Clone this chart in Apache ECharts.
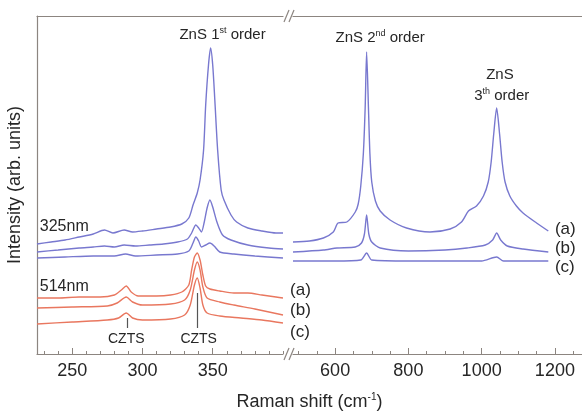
<!DOCTYPE html>
<html>
<head>
<meta charset="utf-8">
<script src="https://cdn.jsdelivr.net/npm/echarts@6/dist/echarts.min.js"></script>
<style>html,body{margin:0;padding:0;background:#fff}#c{width:582px;height:411px}</style>
</head>
<body>
<div id="c"></div>
<script>
// ---- Left panel (225-400 cm-1) : 325 nm excitation (blue) ----
var blueA_L_x = [225,235,245,255,265,273,279,287,293,300,310,320,328,333,336,339,341,343.5,345,347,348.5,350,351.5,353.5,356,358,363,367,375,385,395,400];
var blueA_L_y = [110,112,114,117,120,124,121,124,122,123,125,127,130,136,149,161,174,204,249,289,306,289,254,204,164,154,139,132,126,123,121,121];
var blueB_L_x = [225,240,255,265,273,280,287,295,305,315,325,332,335,338,340,342,344,346,348,350,353,357,363,375,390,400];
var blueB_L_y = [102,104,106,107,108,107,109,108,109,110,112,115,121,129,126,122,132,146,154,147,132,119,114,109,106,105];
var blueC_L_x = [225,245,265,280,288,295,310,325,333,336,338,340,342,345,348,351,355,365,380,400];
var blueC_L_y = [96,97,98,98,100,98,99,100,103,111,117,113,107,109,111,108,102,100,98,96];
// ---- Left panel : 514 nm excitation (red) ----
var redA_x = [225,240,255,270,280,285,288.5,292,297,310,320,328,333,335,337,339,341,343,345,348,355,365,375,385,395,400];
var redA_y = [56,56,57,57,59,64,68,62,58,58,59,62,69,84,97,101,94,79,68,65,63,61,61,59,57,56];
var redB_x = [225,250,275,282,288.5,293,300,320,330,334,337,339,341,343,346,355,365,380,400];
var redB_y = [46,47,48,51,57,52,49,50,54,64,84,92,84,67,56,52,49,45,39];
var redC_x = [225,250,275,283,288.5,293,300,320,330,334,337,339,341,343,346,355,370,385,400];
var redC_y = [30,32,34,36,41,36,34,35,39,49,69,76,66,49,41,38,36,34,31];
// ---- Right panel (485-1274 cm-1) : 325 nm excitation (blue) ----
var blueA_R_x = [485,530,568,595,608,632,655,663,670,677,682,686,691,695,700,710,723,750,795,859,914,945,964,986,1005,1018,1026,1033,1041,1049,1056,1064,1077,1095,1113,1150,1182];
var blueA_R_y = [112,113,116,122,131,132,142,150,168,200,246,302,246,200,172,153,143,134,126,122,125,132,143,148,158,172,192,220,246,220,192,172,158,148,141,131,123];
var blueB_R_x = [485,568,605,655,672,680,686,692,700,723,800,900,960,1010,1030,1041,1052,1070,1113,1182];
var blueB_R_y = [102,104,106,107,111,120,139,120,112,106,103,104,106,109,114,121,114,108,105,102];
var blueC_R_x = [485,600,670,686,700,800,1000,1041,1060,1182];
var blueC_R_y = [93,93,94,101,94,93,93,97,93,93];
// ---- Axis ticks ----
var leftMajorTicks = [250,300,350];
var leftMinorTicks = [230,240,260,270,280,290,310,320,330,340,360,370,380,390,400];
var rightMajorTicks = [600,800,1000,1200];
var rightMinorTicks = [500,550,650,700,750,850,900,950,1050,1100,1150,1250];
// CZTS marker positions
var cztsPos = [289,339];

function zip(xs, ys){ return xs.map(function(x,i){ return [x, ys[i]]; }); }

var BLUE = '#7878cf', RED = '#e9775f', AXIS = '#8c8580', TXT = '#262626';
var FONT = 'Liberation Sans, Arial, sans-serif';

var chart = echarts.init(document.getElementById('c'), null, {renderer:'canvas'});

function lineSeries(name, xi, yi, data, color, extra){
  var s = {name:name, type:'line', xAxisIndex:xi, yAxisIndex:yi, data:data, showSymbol:false, symbol:'none',
    smooth:0.25, lineStyle:{color:color, width:1.4}, itemStyle:{color:color}, silent:true, animation:false, z:3};
  if (extra) for (var k in extra) s[k]=extra[k];
  return s;
}

var grids = [
  {left:37, top:16, width:246, height:338},
  {left:293, top:16, right:0, height:338}
];

function xMain(gi, min, max, major){
  return {type:'value', gridIndex:gi, min:min, max:max, position:'bottom',
    axisLine:{show:true, lineStyle:{color:AXIS, width:1.2}},
    axisTick:{show:true, inside:true, length:6, customValues:major, lineStyle:{color:AXIS}},
    axisLabel:{show:true, customValues:major, color:TXT, fontSize:18, fontFamily:FONT, margin:8,
      formatter:function(v){ return String(v); }},
    splitLine:{show:false}};
}
function xMinor(gi, min, max, minor){
  return {type:'value', gridIndex:gi, min:min, max:max, position:'bottom',
    axisLine:{show:false}, axisTick:{show:true, inside:true, length:3, customValues:minor, lineStyle:{color:AXIS}},
    axisLabel:{show:false}, splitLine:{show:false}};
}
function xTop(gi, min, max){
  return {type:'value', gridIndex:gi, min:min, max:max, position:'top',
    axisLine:{show:true, lineStyle:{color:AXIS, width:1.2}}, axisTick:{show:false}, axisLabel:{show:false}, splitLine:{show:false}};
}

var option = {
  animation:false,
  backgroundColor:'#fff',
  grid: grids,
  xAxis: [
    xMain(0,225,400,leftMajorTicks), xMinor(0,225,400,leftMinorTicks), xTop(0,225,400),
    xMain(1,485,1274,rightMajorTicks), xMinor(1,485,1274,rightMinorTicks), xTop(1,485,1274)
  ],
  yAxis: [
    {type:'value', gridIndex:0, min:0, max:338, axisLine:{show:true, lineStyle:{color:AXIS, width:1.2}},
      axisTick:{show:false}, axisLabel:{show:false}, splitLine:{show:false},
      name:'Intensity (arb. units)', nameLocation:'middle', nameGap:13,
      nameTextStyle:{color:TXT, fontSize:18, fontFamily:FONT}},
    {type:'value', gridIndex:1, min:0, max:338, axisLine:{show:false}, axisTick:{show:false}, axisLabel:{show:false}, splitLine:{show:false}}
  ],
  series: [
    lineSeries('325nm (a) L', 0, 0, zip(blueA_L_x, blueA_L_y), BLUE),
    lineSeries('325nm (b) L', 0, 0, zip(blueB_L_x, blueB_L_y), BLUE),
    lineSeries('325nm (c) L', 0, 0, zip(blueC_L_x, blueC_L_y), BLUE),
    lineSeries('514nm (a)', 0, 0, zip(redA_x, redA_y), RED),
    lineSeries('514nm (b)', 0, 0, zip(redB_x, redB_y), RED),
    lineSeries('514nm (c)', 0, 0, zip(redC_x, redC_y), RED, {
      markLine:{silent:true, symbol:'none', label:{show:false}, animation:false,
        lineStyle:{color:'#555', width:1.2, type:'solid'},
        data:[
          [{coord:[cztsPos[0], 36]}, {coord:[cztsPos[0], 26]}],
          [{coord:[cztsPos[1], 61]}, {coord:[cztsPos[1], 26]}]
        ]}
    }),
    lineSeries('325nm (a) R', 3, 1, zip(blueA_R_x, blueA_R_y), BLUE),
    lineSeries('325nm (b) R', 3, 1, zip(blueB_R_x, blueB_R_y), BLUE),
    lineSeries('325nm (c) R', 3, 1, zip(blueC_R_x, blueC_R_y), BLUE)
  ]
};
chart.setOption(option);

// annotations, given in data coordinates of a grid
var sup = {fontSize:9, fontFamily:FONT, color:TXT, padding:[0,0,8,0]};
var annotations = [
  {g:0, x:357, y:319, text:'ZnS 1{s|st} order', align:'center', size:15},
  {g:1, x:723, y:316, text:'ZnS 2{s|nd} order', align:'center', size:15},
  {g:1, x:1050, y:279, text:'ZnS', align:'center', size:15},
  {g:1, x:1055, y:258, text:'3{s|th} order', align:'center', size:15},
  {g:0, x:227, y:127, text:'325nm', align:'left', size:16},
  {g:0, x:227, y:67, text:'514nm', align:'left', size:16},
  {g:0, x:405, y:64, text:'(a)', align:'left', size:17},
  {g:0, x:405, y:44, text:'(b)', align:'left', size:17},
  {g:0, x:405, y:22, text:'(c)', align:'left', size:17},
  {g:1, x:1200, y:125, text:'(a)', align:'left', size:17},
  {g:1, x:1200, y:106, text:'(b)', align:'left', size:17},
  {g:1, x:1200, y:87, text:'(c)', align:'left', size:17},
  {g:0, x:288.5, y:15, text:'CZTS', align:'center', size:14},
  {g:0, x:340, y:15, text:'CZTS', align:'center', size:14}
];
var graphics = annotations.map(function(a){
  var p = chart.convertToPixel({gridIndex:a.g}, [a.x, a.y]);
  return {type:'text', x:p[0], y:p[1], silent:true, z:10,
    style:{text:a.text, fill:TXT, font: a.size+'px '+FONT, align:a.align, verticalAlign:'middle',
      rich:{s:sup}}};
});
// x-axis title centred under both panels
var xl = chart.convertToPixel({xAxisIndex:0}, 225);
var xr = chart.convertToPixel({xAxisIndex:3}, 1274);
graphics.push({type:'text', x:(xl+xr)/2, y:402, silent:true,
  style:{text:'Raman shift (cm{s|-1})', fill:TXT, font:'18px '+FONT, align:'center', verticalAlign:'middle',
    rich:{s:{fontSize:10, fontFamily:FONT, color:TXT, padding:[0,0,10,0]}}}});
// axis break marks
var bx = chart.convertToPixel({xAxisIndex:0}, 400);
var yb = chart.convertToPixel({yAxisIndex:0}, 0);
var yt = chart.convertToPixel({yAxisIndex:0}, 338);
[yb, yt].forEach(function(yy){
  [bx+1, bx+6].forEach(function(x0){
    graphics.push({type:'line', silent:true, z:10,
      shape:{x1:x0, y1:yy+6, x2:x0+5, y2:yy-6}, style:{stroke:AXIS, lineWidth:1.2}});
  });
});
chart.setOption({graphic:graphics});
</script>
</body>
</html>
